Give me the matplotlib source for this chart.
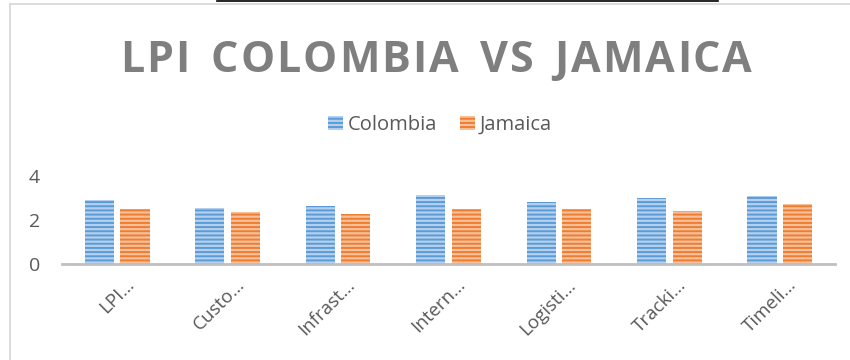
import matplotlib
matplotlib.use("Agg")
import matplotlib.pyplot as plt
from matplotlib.lines import Line2D
from matplotlib.patches import Patch
from matplotlib.transforms import ScaledTranslation
import numpy as np

categories = ["LPI…", "Custo…", "Infrast…", "Intern…", "Logisti…", "Tracki…", "Timeli…"]
colombia = [2.89, 2.56, 2.63, 3.15, 2.83, 3.02, 3.10]
jamaica = [2.48, 2.38, 2.29, 2.48, 2.48, 2.43, 2.72]
series_names = ["Colombia", "Jamaica"]
yticks = [0, 2, 4]
title = "LPI COLOMBIA VS JAMAICA"

W, H = 850, 360
plt.rcParams['font.family'] = ['Open Sans', 'DejaVu Sans']
plt.rcParams['hatch.linewidth'] = 1.4

fig = plt.figure(figsize=(W / 100, H / 100), dpi=100)
fig.patch.set_facecolor('white')

def fx(px):
    return px / W

def fy(py):
    return 1 - py / H

# axes: x from 62 to 835 px, y from 176 (value 4) to 264 (value 0)
ax = fig.add_axes([fx(62), fy(264), fx(835) - fx(62), fy(176) - fy(264)])
ax.set_facecolor('none')

x = np.arange(len(categories))
bw = 0.263
off = 0.161
blue_dark, blue_light = '#5b9bd5', '#b4d0ee'
orange_dark, orange_light = '#ed7d31', '#f7c09a'

ax.bar(x - off, colombia, bw, color=blue_light, edgecolor=blue_dark, hatch='----', linewidth=0, zorder=2)
ax.bar(x + off, jamaica, bw, color=orange_light, edgecolor=orange_dark, hatch='----', linewidth=0, zorder=2)

ax.set_xlim(-0.5, len(categories) - 0.5)
ax.set_ylim(0, 4)
ax.set_yticks(yticks)
ax.set_yticklabels([str(t) for t in yticks])
for s in ['top', 'right', 'left']:
    ax.spines[s].set_visible(False)
ax.spines['bottom'].set_color('#bfbfbf')
ax.spines['bottom'].set_linewidth(2.0)
ax.spines['bottom'].set_zorder(3)
ax.tick_params(axis='y', length=0, pad=16, labelsize=14, labelcolor='#595959')
ax.tick_params(axis='x', length=0, pad=13, labelsize=13.5, labelcolor='#595959')
ax.set_xticks(x)
ax.set_xticklabels(categories, rotation=45, ha='right', va='center', rotation_mode='anchor')
for lab in ax.get_xticklabels():
    lab.set_transform(lab.get_transform() + ScaledTranslation(0.14, 0, fig.dpi_scale_trans))

# legend
handles = [Patch(facecolor=blue_light, edgecolor=blue_dark, hatch='----', linewidth=0),
           Patch(facecolor=orange_light, edgecolor=orange_dark, hatch='----', linewidth=0)]
leg = fig.legend(handles, series_names, loc='center', bbox_to_anchor=(fx(440), fy(125)),
                 ncol=2, frameon=False, fontsize=14.5, handlelength=0.75, handleheight=0.75,
                 handletextpad=0.25, columnspacing=1.1, labelcolor='#595959')

# title with letter spacing
renderer = fig.canvas.get_renderer()
tprops = dict(fontsize=31, fontweight='bold', color='#7f7f7f', family=['Open Sans', 'DejaVu Sans'])
widths = []
for ch in title:
    t = fig.text(0, 0, ch if ch != ' ' else 'I', **tprops)
    bb = t.get_window_extent(renderer)
    w = bb.width if ch != ' ' else bb.width * 1.2
    widths.append(w)
    t.remove()
x0, x1 = 120, 752
total = sum(widths)
gap = (x1 - x0 - total) / (len(title) - 1)
cx = x0
for ch, w in zip(title, widths):
    if ch != ' ':
        fig.text(fx(cx), fy(72), ch, ha='left', va='baseline', **tprops)
    cx += w + gap

# chart border (top and left edges visible) and black line on top
fig.add_artist(Line2D([fx(9.5), fx(9.5)], [fy(3.8), 0], color='#d9d9d9', linewidth=1.3))
fig.add_artist(Line2D([fx(9.5), 1], [fy(3.8), fy(3.8)], color='#d9d9d9', linewidth=1.3))
fig.add_artist(Line2D([fx(217), fx(718)], [fy(0.7), fy(0.7)], color='black', linewidth=1.2))

fig.savefig('out.png', dpi=100, facecolor='white')
